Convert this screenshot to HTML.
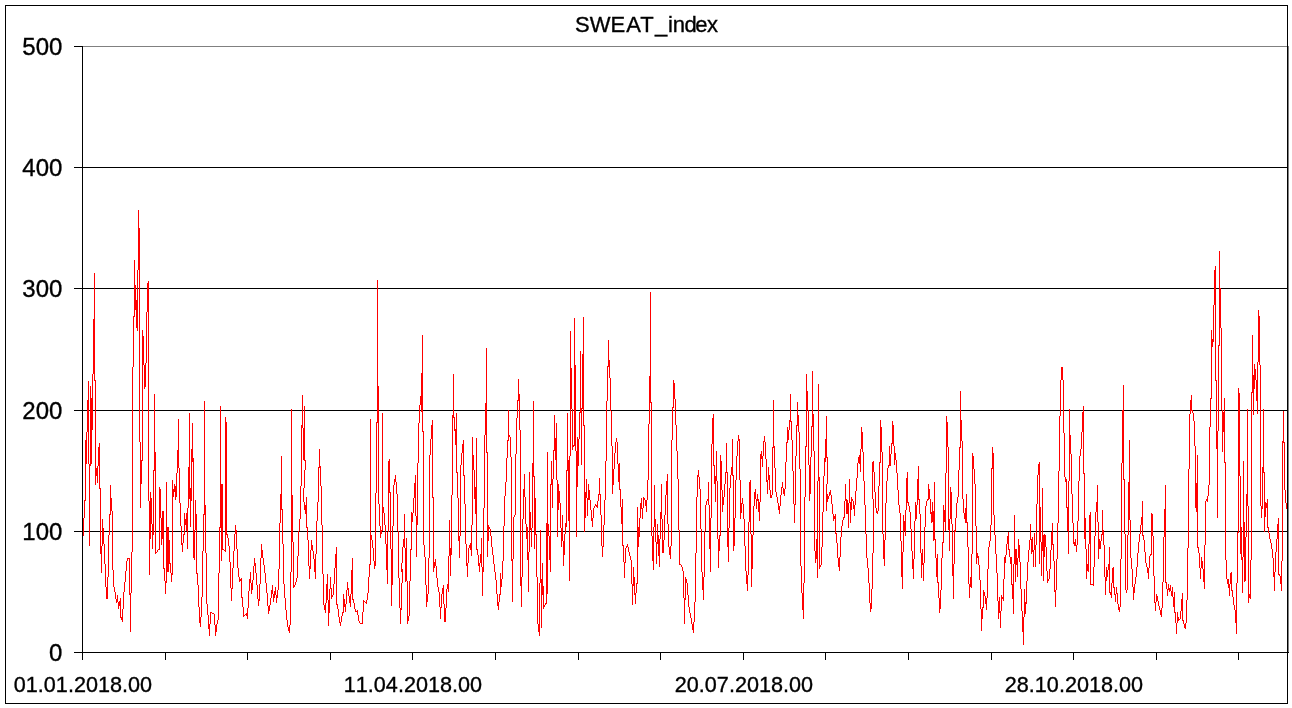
<!DOCTYPE html>
<html><head><meta charset="utf-8"><title>SWEAT_index</title>
<style>
html,body{margin:0;padding:0;background:#fff;}
body{width:1292px;height:708px;overflow:hidden;}
svg{display:block;}
text{font-kerning:none;font-family:"Liberation Sans",sans-serif;fill:#000;stroke:#000;stroke-width:0.35px;}
</style></head><body>
<svg width="1292" height="708" viewBox="0 0 1292 708">
<rect x="0" y="0" width="1292" height="708" fill="#fff"/>
<g stroke="#808080" stroke-width="1" shape-rendering="crispEdges">
<line x1="82" y1="46.5" x2="1289" y2="46.5"/>
<line x1="1288.5" y1="46" x2="1288.5" y2="653"/>
</g>
<rect x="5.5" y="5.5" width="1282" height="698" fill="none" stroke="#000" stroke-width="1" shape-rendering="crispEdges"/>
<g stroke="#000" stroke-width="1" shape-rendering="crispEdges">
<line x1="74" y1="167.5" x2="1288" y2="167.5"/><line x1="74" y1="288.5" x2="1288" y2="288.5"/><line x1="74" y1="410.5" x2="1288" y2="410.5"/><line x1="74" y1="531.5" x2="1288" y2="531.5"/>
<line x1="74" y1="46.5" x2="83" y2="46.5"/>
<line x1="82.5" y1="46" x2="82.5" y2="653"/>
<line x1="74" y1="652.5" x2="1289" y2="652.5"/>
<line x1="82.5" y1="652" x2="82.5" y2="660"/><line x1="165.5" y1="652" x2="165.5" y2="660"/><line x1="247.5" y1="652" x2="247.5" y2="660"/><line x1="330.5" y1="652" x2="330.5" y2="660"/><line x1="412.5" y1="652" x2="412.5" y2="660"/><line x1="495.5" y1="652" x2="495.5" y2="660"/><line x1="578.5" y1="652" x2="578.5" y2="660"/><line x1="660.5" y1="652" x2="660.5" y2="660"/><line x1="743.5" y1="652" x2="743.5" y2="660"/><line x1="825.5" y1="652" x2="825.5" y2="660"/><line x1="908.5" y1="652" x2="908.5" y2="660"/><line x1="991.5" y1="652" x2="991.5" y2="660"/><line x1="1073.5" y1="652" x2="1073.5" y2="660"/><line x1="1156.5" y1="652" x2="1156.5" y2="660"/><line x1="1238.5" y1="652" x2="1238.5" y2="660"/>
</g>
<path fill="none" stroke="#ff0000" stroke-width="1" shape-rendering="crispEdges" d="M83.5 518V536M84.5 500V518M85.5 440V501M86.5 432V464M87.5 400V432M88.5 381V464M89.5 464V546M90.5 386V466M91.5 398V464M92.5 374V430M93.5 319V374M94.5 273V381M95.5 380V485M96.5 468V476M97.5 466V483M98.5 447V466M99.5 443V489M100.5 488V554M101.5 546V573M102.5 519V546M103.5 528V544M104.5 544V564M105.5 564V587M106.5 587V599M107.5 577V599M108.5 535V577M109.5 514V535M110.5 485V515M111.5 498V511M112.5 511V570M113.5 570V587M114.5 587V592M115.5 592V599M116.5 599V603M117.5 595V602M118.5 602V609M119.5 601V606M120.5 598V618M121.5 617V620M122.5 609V622M123.5 592V609M124.5 582V592M125.5 571V582M126.5 561V571M127.5 558V561M128.5 558V559M129.5 558V595M130.5 593V632M131.5 552V593M132.5 367V552M133.5 316V367M134.5 260V317M135.5 285V310M136.5 300V328M137.5 270V331M138.5 210V270M139.5 228V442M140.5 442V508M141.5 460V484M142.5 330V461M143.5 336V365M144.5 365V389M145.5 363V387M146.5 312V363M147.5 283V312M148.5 281V501M149.5 501V575M150.5 492V539M151.5 498V524M152.5 524V549M153.5 470V535M154.5 394V471M155.5 452V554M156.5 552V553M157.5 550V552M158.5 549V550M159.5 487V550M160.5 489V518M161.5 518V545M162.5 511V539M163.5 511V569M164.5 568V581M165.5 581V594M166.5 482V583M167.5 527V572M168.5 527V572M169.5 540V564M170.5 563V573M171.5 573V582M172.5 480V575M173.5 489V497M174.5 484V492M175.5 486V500M176.5 473V497M177.5 450V473M178.5 419V468M179.5 468V503M180.5 503V526M181.5 526V545M182.5 543V552M183.5 534V543M184.5 513V535M185.5 519V525M186.5 513V531M187.5 508V549M188.5 467V508M189.5 413V499M190.5 488V527M191.5 449V501M192.5 423V462M193.5 458V558M194.5 530V560M195.5 500V530M196.5 514V574M197.5 573V585M198.5 585V607M199.5 607V623M200.5 617V627M201.5 597V617M202.5 551V597M203.5 514V551M204.5 401V515M205.5 505V553M206.5 553V604M207.5 604V615M208.5 615V629M209.5 624V636M210.5 612V624M211.5 612V613M212.5 613V614M213.5 613V614M214.5 614V625M215.5 625V636M216.5 624V632M217.5 620V624M218.5 573V620M219.5 527V573M220.5 406V528M221.5 484V561M222.5 484V550M223.5 549V550M224.5 550V551M225.5 417V552M226.5 422V535M227.5 534V538M228.5 538V546M229.5 546V562M230.5 562V588M231.5 588V601M232.5 568V589M233.5 551V568M234.5 534V551M235.5 525V534M236.5 530V549M237.5 549V568M238.5 568V577M239.5 577V582M240.5 579V581M241.5 578V598M242.5 597V607M243.5 607V617M244.5 615V616M245.5 614V615M246.5 613V616M247.5 608V619M248.5 591V608M249.5 579V591M250.5 572V583M251.5 583V594M252.5 580V590M253.5 566V580M254.5 558V566M255.5 563V573M256.5 573V585M257.5 585V599M258.5 599V606M259.5 584V601M260.5 558V584M261.5 544V558M262.5 550V558M263.5 558V565M264.5 565V573M265.5 573V583M266.5 583V593M267.5 593V606M268.5 606V614M269.5 605V611M270.5 598V605M271.5 590V598M272.5 585V594M273.5 594V602M274.5 591V598M275.5 587V595M276.5 595V603M277.5 590V598M278.5 569V590M279.5 523V569M280.5 494V523M281.5 456V510M282.5 509V544M283.5 544V584M284.5 584V598M285.5 598V610M286.5 610V620M287.5 620V627M288.5 627V631M289.5 625V633M290.5 572V625M291.5 409V572M292.5 495V542M293.5 542V588M294.5 585V587M295.5 582V585M296.5 578V582M297.5 556V578M298.5 531V556M299.5 519V531M300.5 486V519M301.5 425V486M302.5 395V428M303.5 428V460M303.5 488V502M304.5 406V461M304.5 470V488M304.5 502V510M305.5 460V470M305.5 505V514M306.5 497V528M307.5 527V540M308.5 540V566M309.5 566V579M310.5 550V569M311.5 540V550M312.5 545V551M313.5 551V559M314.5 559V572M315.5 554V579M316.5 521V554M317.5 502V521M318.5 467V502M319.5 449V468M320.5 466V486M321.5 486V525M322.5 525V574M323.5 574V605M324.5 605V610M325.5 603V613M326.5 584V603M327.5 574V600M328.5 600V626M329.5 589V613M330.5 577V589M331.5 588V599M332.5 595V597M333.5 584V595M334.5 568V584M335.5 554V568M336.5 547V605M337.5 604V609M338.5 609V617M339.5 617V623M340.5 622V626M341.5 616V622M342.5 612V616M343.5 594V613M344.5 599V607M345.5 604V612M346.5 590V604M347.5 582V590M348.5 588V596M349.5 596V603M350.5 594V607M351.5 570V594M352.5 558V600M353.5 599V603M354.5 603V609M355.5 609V612M356.5 611V612M357.5 610V615M358.5 615V621M359.5 621V623M360.5 623V624M361.5 623V624M362.5 612V624M363.5 600V612M364.5 601V602M365.5 602V603M366.5 600V604M367.5 593V600M368.5 577V593M369.5 564V577M370.5 419V565M371.5 535V540M372.5 540V548M373.5 548V561M374.5 561V569M375.5 493V566M376.5 422V493M377.5 280V423M378.5 386V504M379.5 504V526M380.5 526V538M381.5 530V534M382.5 413V531M383.5 507V513M384.5 513V525M385.5 525V544M386.5 544V570M387.5 532V584M388.5 461V532M389.5 459V493M390.5 492V549M391.5 549V606M392.5 526V585M393.5 485V526M394.5 479V485M395.5 475V482M396.5 482V494M397.5 494V531M398.5 531V578M399.5 578V608M400.5 608V624M401.5 563V572M401.5 583V610M402.5 547V563M402.5 569V583M403.5 539V547M404.5 514V548M405.5 548V582M406.5 538V581M407.5 581V624M408.5 616V621M409.5 581V616M410.5 549V581M411.5 512V550M412.5 513V522M413.5 498V513M414.5 483V498M415.5 475V516M416.5 516V557M417.5 463V525M418.5 423V463M419.5 405V423M420.5 396V405M421.5 373V412M422.5 335V432M423.5 431V545M424.5 545V557M425.5 557V585M426.5 585V607M427.5 594V602M428.5 558V594M429.5 455V558M430.5 439V455M431.5 425V439M432.5 420V498M433.5 497V572M434.5 562V568M435.5 559V566M436.5 566V578M437.5 578V587M438.5 587V592M439.5 592V607M440.5 607V619M441.5 594V608M442.5 588V594M443.5 585V604M444.5 604V622M445.5 608V622M446.5 589V608M447.5 584V589M448.5 556V592M449.5 520V556M450.5 548V576M451.5 495V555M452.5 415V495M453.5 374V418M454.5 417V431M455.5 429V445M456.5 413V473M457.5 472V498M458.5 498V541M459.5 536V558M460.5 465V536M461.5 453V465M462.5 444V453M463.5 440V476M464.5 475V504M465.5 504V544M466.5 544V566M467.5 563V577M468.5 548V563M469.5 545V548M470.5 543V550M471.5 525V556M472.5 437V525M473.5 455V470M474.5 470V499M475.5 487V514M476.5 438V550M477.5 549V555M478.5 555V566M479.5 563V572M480.5 554V563M481.5 538V567M482.5 567V596M483.5 508V572M484.5 435V508M485.5 403V435M486.5 348V453M487.5 452V557M488.5 525V541M489.5 527V529M490.5 529V536M491.5 536V547M492.5 547V555M493.5 555V564M494.5 564V572M495.5 572V580M496.5 580V594M497.5 594V606M498.5 602V610M499.5 594V602M500.5 573V595M501.5 579V587M502.5 561V579M503.5 526V561M504.5 496V526M505.5 482V496M506.5 458V482M507.5 440V458M508.5 410V441M509.5 435V437M510.5 437V457M511.5 457V561M512.5 559V602M513.5 517V559M514.5 515V517M515.5 454V515M516.5 418V454M517.5 400V418M518.5 379V401M519.5 394V430M520.5 430V586M521.5 577V607M522.5 519V577M523.5 489V519M524.5 474V497M525.5 497V524M526.5 524V539M527.5 527V560M528.5 552V592M529.5 472V552M530.5 512V530M531.5 528V547M532.5 463V528M533.5 401V477M534.5 476V549M535.5 498V535M536.5 534V577M537.5 577V624M538.5 624V632M539.5 583V636M540.5 530V583M541.5 579V628M542.5 563V595M543.5 586V609M544.5 605V607M545.5 603V605M546.5 523V604M547.5 452V594M548.5 524V536M549.5 536V560M550.5 484V572M551.5 461V485M552.5 479V508M553.5 450V479M554.5 415V451M555.5 438V460M556.5 423V480M557.5 480V537M558.5 484V510M559.5 491V503M560.5 503V528M561.5 528V547M562.5 515V541M563.5 541V566M564.5 534V555M565.5 523V534M566.5 470V527M567.5 413V471M568.5 460V521M569.5 456V581M570.5 331V456M571.5 368V409M572.5 409V450M573.5 445V447M574.5 318V446M575.5 365V451M576.5 451V537M577.5 437V487M578.5 439V466M579.5 412V439M580.5 351V413M581.5 408V465M582.5 354V409M583.5 317V426M584.5 425V532M585.5 492V518M586.5 479V498M587.5 498V516M588.5 484V500M589.5 490V500M590.5 500V510M591.5 510V521M592.5 518V527M593.5 508V518M594.5 506V508M595.5 504V506M596.5 505V507M597.5 501V508M598.5 494V501M599.5 478V495M600.5 494V515M601.5 515V546M602.5 546V557M603.5 525V547M604.5 500V525M605.5 461V500M606.5 401V461M607.5 366V401M608.5 340V367M609.5 360V378M610.5 378V411M611.5 411V446M612.5 446V494M613.5 469V485M614.5 453V469M615.5 442V453M616.5 438V442M617.5 442V464M618.5 464V482M619.5 463V490M620.5 489V507M621.5 507V524M622.5 499V546M623.5 545V562M624.5 562V578M625.5 548V563M626.5 546V548M627.5 544V547M628.5 547V552M629.5 552V556M630.5 556V560M631.5 560V584M632.5 584V605M633.5 567V586M634.5 577V595M635.5 593V604M636.5 583V593M637.5 507V584M638.5 527V547M639.5 518V537M640.5 503V518M641.5 498V509M642.5 508V519M643.5 497V508M644.5 498V500M645.5 500V506M646.5 500V512M647.5 480V500M648.5 424V480M649.5 376V424M650.5 292V403M651.5 402V536M652.5 536V561M653.5 527V570M654.5 485V527M655.5 519V542M656.5 542V564M657.5 524V544M658.5 535V556M659.5 539V567M660.5 512V539M661.5 484V519M662.5 519V553M663.5 540V553M664.5 515V540M665.5 495V515M666.5 481V495M667.5 474V524M668.5 524V547M669.5 547V555M670.5 546V559M671.5 440V546M672.5 407V440M673.5 380V408M674.5 383V399M675.5 399V425M676.5 425V451M677.5 451V479M678.5 479V530M679.5 530V565M680.5 564V565M681.5 565V567M682.5 567V571M683.5 571V598M684.5 598V624M685.5 577V600M686.5 579V583M687.5 583V595M688.5 595V607M689.5 607V613M690.5 613V618M691.5 618V624M692.5 624V630M693.5 622V633M694.5 602V622M695.5 553V602M696.5 497V553M697.5 475V497M698.5 470V477M699.5 477V489M700.5 489V529M701.5 529V572M702.5 572V590M703.5 577V600M704.5 531V577M705.5 505V531M706.5 501V505M707.5 499V501M708.5 482V505M709.5 505V549M710.5 518V572M711.5 444V518M712.5 418V444M713.5 414V466M714.5 465V484M715.5 476V502M716.5 451V481M717.5 481V539M718.5 539V568M719.5 535V551M720.5 455V536M721.5 461V490M722.5 490V512M723.5 497V505M724.5 484V497M725.5 472V484M726.5 443V473M727.5 472V547M728.5 528V562M729.5 488V528M730.5 475V488M731.5 467V475M732.5 439V476M733.5 475V551M734.5 518V546M735.5 480V518M736.5 456V480M737.5 441V456M738.5 435V441M739.5 439V480M740.5 480V519M741.5 503V513M742.5 498V504M743.5 504V519M744.5 519V546M745.5 546V571M746.5 571V584M747.5 575V591M748.5 522V575M749.5 482V522M750.5 480V534M751.5 534V587M752.5 535V569M753.5 506V535M754.5 492V506M755.5 489V499M756.5 499V509M757.5 494V501M758.5 499V512M759.5 502V521M760.5 454V502M761.5 451V459M762.5 456V467M763.5 441V456M764.5 436V442M765.5 442V459M766.5 459V482M767.5 480V494M768.5 467V480M769.5 475V490M770.5 490V498M771.5 495V498M772.5 447V495M773.5 400V448M774.5 446V468M775.5 468V492M776.5 492V497M777.5 497V503M778.5 503V510M779.5 506V514M780.5 495V506M781.5 487V495M782.5 482V488M783.5 488V494M784.5 489V496M785.5 462V489M786.5 442V462M787.5 427V443M788.5 430V440M789.5 420V430M790.5 394V422M791.5 421V440M792.5 440V471M793.5 471V504M794.5 504V523M795.5 456V505M796.5 425V456M797.5 402V426M798.5 415V432M799.5 432V469M800.5 469V566M801.5 566V593M802.5 593V610M803.5 583V619M804.5 497V583M805.5 446V497M806.5 374V447M807.5 391V410M808.5 410V465M809.5 465V501M810.5 457V494M811.5 426V457M812.5 371V427M813.5 414V451M814.5 451V551M815.5 551V563M816.5 539V559M817.5 481V578M818.5 384V481M819.5 477V569M820.5 565V567M821.5 547V565M822.5 512V547M823.5 476V512M824.5 458V476M825.5 439V462M826.5 416V458M826.5 484V511M827.5 457V484M827.5 494V502M828.5 496V499M829.5 492V496M830.5 490V495M831.5 495V504M832.5 504V514M833.5 514V521M834.5 516V519M835.5 514V534M836.5 533V543M837.5 543V558M838.5 558V567M839.5 557V571M840.5 537V557M841.5 526V537M842.5 520V526M843.5 517V520M844.5 501V518M845.5 484V501M846.5 499V514M847.5 500V514M848.5 503V528M849.5 479V503M850.5 502V523M851.5 497V510M852.5 499V501M853.5 501V509M854.5 505V516M855.5 491V505M856.5 478V491M857.5 463V478M858.5 457V463M859.5 455V464M860.5 449V472M861.5 427V449M862.5 432V452M863.5 452V481M864.5 481V505M865.5 505V534M866.5 534V558M867.5 558V568M868.5 568V583M869.5 583V603M870.5 603V612M871.5 589V609M872.5 462V499M872.5 553V589M873.5 461V472M873.5 499V553M874.5 472V492M875.5 492V508M876.5 508V513M877.5 511V514M878.5 486V511M879.5 462V486M880.5 420V463M881.5 427V452M882.5 452V534M883.5 534V559M884.5 540V566M885.5 503V540M886.5 481V503M887.5 468V481M888.5 465V468M889.5 446V466M890.5 454V466M891.5 443V454M892.5 421V444M893.5 425V446M894.5 446V465M895.5 453V460M896.5 460V473M897.5 473V490M898.5 490V505M899.5 505V513M900.5 513V541M901.5 541V577M902.5 552V589M903.5 515V552M904.5 521V531M905.5 510V536M906.5 478V510M907.5 472V503M908.5 502V506M909.5 506V512M910.5 512V529M911.5 529V551M912.5 551V569M913.5 559V579M914.5 521V559M915.5 502V521M916.5 505V519M917.5 479V505M918.5 466V500M919.5 499V514M920.5 514V553M921.5 553V578M922.5 549V565M923.5 563V581M924.5 527V563M925.5 506V527M926.5 501V506M927.5 499V501M928.5 484V500M929.5 489V499M930.5 499V514M931.5 512V523M932.5 502V522M933.5 511V541M934.5 482V540M935.5 539V558M936.5 558V577M937.5 554V583M938.5 582V598M939.5 598V613M940.5 590V609M941.5 558V590M942.5 542V558M943.5 505V543M944.5 510V522M945.5 473V531M946.5 416V473M947.5 422V447M948.5 447V530M949.5 519V551M950.5 487V519M951.5 492V524M952.5 524V576M953.5 564V599M954.5 530V564M955.5 518V532M956.5 503V518M957.5 497V503M958.5 470V497M959.5 447V470M960.5 391V448M961.5 420V441M962.5 441V499M963.5 499V513M964.5 513V519M965.5 508V523M966.5 494V523M967.5 522V547M968.5 547V584M969.5 584V598M970.5 577V587M971.5 554V588M972.5 453V554M973.5 456V469M974.5 469V484M975.5 484V526M976.5 526V564M977.5 553V558M978.5 556V565M979.5 565V580M980.5 580V609M981.5 609V631M982.5 607V619M983.5 590V608M984.5 592V596M985.5 596V604M986.5 598V610M987.5 569V598M988.5 547V569M989.5 541V547M990.5 525V541M991.5 468V525M992.5 447V469M993.5 453V515M994.5 515V535M995.5 535V554M996.5 554V573M997.5 573V601M998.5 601V619M999.5 597V613M1000.5 611V628M1001.5 595V611M1002.5 597V599M1003.5 579V601M1004.5 557V579M1005.5 555V563M1006.5 544V555M1007.5 536V544M1008.5 532V550M1009.5 549V557M1010.5 557V564M1011.5 557V585M1012.5 584V599M1013.5 564V614M1014.5 515V564M1015.5 549V582M1016.5 549V565M1017.5 558V577M1018.5 539V558M1019.5 545V562M1020.5 562V589M1021.5 589V611M1022.5 611V632M1023.5 617V645M1024.5 589V617M1025.5 602V614M1026.5 581V604M1027.5 562V581M1028.5 550V562M1029.5 540V550M1030.5 524V540M1031.5 539V554M1032.5 537V552M1033.5 550V567M1034.5 533V550M1035.5 545V567M1036.5 504V545M1037.5 475V504M1038.5 464V475M1039.5 462V564M1040.5 507V542M1041.5 542V576M1042.5 488V551M1043.5 535V581M1044.5 534V557M1045.5 535V547M1046.5 547V571M1047.5 571V583M1048.5 579V581M1049.5 569V579M1050.5 550V569M1051.5 532V550M1052.5 523V545M1053.5 544V561M1054.5 561V592M1055.5 590V607M1056.5 559V590M1057.5 523V559M1058.5 471V523M1059.5 416V471M1060.5 380V416M1061.5 367V380M1062.5 367V380M1063.5 380V433M1064.5 433V477M1065.5 477V482M1066.5 479V508M1067.5 507V531M1068.5 481V554M1069.5 409V481M1070.5 435V454M1071.5 454V494M1072.5 494V523M1073.5 523V544M1074.5 542V546M1075.5 539V546M1076.5 545V552M1077.5 521V545M1078.5 481V521M1079.5 456V481M1080.5 449V456M1081.5 432V449M1082.5 412V432M1083.5 406V474M1084.5 473V539M1085.5 518V549M1086.5 549V579M1087.5 564V571M1088.5 544V572M1089.5 515V544M1090.5 512V585M1091.5 584V585M1092.5 584V585M1093.5 567V586M1094.5 536V567M1095.5 512V536M1096.5 502V512M1097.5 485V522M1098.5 522V559M1099.5 539V549M1100.5 541V549M1101.5 534V541M1102.5 510V535M1103.5 530V545M1104.5 545V577M1105.5 577V595M1106.5 567V581M1107.5 570V577M1108.5 564V570M1109.5 547V593M1110.5 592V595M1111.5 583V598M1112.5 568V583M1113.5 567V588M1114.5 587V595M1115.5 594V602M1116.5 587V594M1117.5 593V604M1118.5 604V610M1119.5 607V612M1120.5 559V607M1121.5 463V559M1122.5 410V463M1123.5 385V480M1124.5 479V534M1125.5 534V590M1126.5 590V593M1127.5 535V590M1128.5 482V535M1129.5 440V520M1130.5 520V558M1131.5 558V569M1132.5 569V587M1133.5 587V600M1134.5 584V593M1135.5 577V584M1136.5 567V577M1137.5 553V567M1138.5 542V553M1139.5 534V542M1140.5 525V534M1141.5 517V525M1142.5 501V536M1143.5 535V540M1144.5 540V552M1145.5 552V563M1146.5 563V567M1147.5 567V573M1148.5 568V579M1149.5 556V568M1150.5 554V556M1151.5 513V555M1152.5 514V536M1153.5 536V576M1154.5 576V603M1155.5 602V611M1156.5 594V602M1157.5 596V601M1158.5 601V606M1159.5 606V610M1160.5 610V615M1161.5 608V617M1162.5 582V608M1163.5 537V582M1164.5 509V537M1165.5 485V583M1166.5 582V589M1167.5 589V596M1168.5 584V590M1169.5 588V592M1170.5 585V591M1171.5 591V596M1172.5 587V597M1173.5 597V607M1174.5 592V613M1175.5 612V623M1176.5 623V634M1177.5 612V623M1178.5 617V621M1179.5 619V620M1180.5 611V619M1181.5 599V611M1182.5 593V621M1183.5 620V624M1184.5 624V628M1185.5 623V629M1186.5 600V623M1187.5 548V600M1188.5 469V548M1189.5 414V469M1190.5 400V414M1191.5 395V411M1192.5 410V413M1193.5 413V421M1194.5 421V446M1195.5 446V508M1196.5 483V512M1197.5 455V548M1198.5 547V553M1199.5 553V568M1200.5 568V579M1201.5 557V568M1202.5 561V569M1203.5 569V582M1204.5 545V589M1205.5 501V545M1206.5 499V501M1207.5 496V502M1208.5 485V496M1209.5 427V485M1210.5 398V427M1211.5 330V399M1212.5 339V347M1213.5 305V342M1214.5 270V305M1215.5 266V381M1216.5 380V449M1217.5 431V518M1218.5 345V431M1219.5 251V346M1220.5 288V328M1221.5 328V410M1222.5 410V452M1223.5 412V432M1224.5 398V463M1225.5 462V560M1226.5 560V579M1227.5 579V584M1228.5 579V588M1229.5 584V596M1230.5 573V584M1231.5 572V591M1232.5 590V597M1233.5 597V605M1234.5 605V610M1235.5 610V623M1236.5 583V634M1237.5 532V583M1238.5 388V533M1239.5 393V476M1240.5 476V554M1241.5 527V560M1242.5 557V593M1243.5 461V557M1244.5 522V582M1245.5 537V581M1246.5 494V537M1247.5 409V506M1248.5 506V603M1249.5 594V598M1250.5 560V599M1251.5 392V560M1252.5 335V393M1253.5 375V415M1254.5 364V389M1255.5 369V380M1256.5 380V401M1257.5 362V414M1258.5 310V362M1259.5 316V365M1260.5 365V506M1261.5 506V518M1262.5 467V509M1263.5 409V473M1264.5 472V532M1265.5 502V517M1266.5 503V508M1267.5 499V528M1268.5 527V533M1269.5 533V539M1270.5 539V543M1271.5 543V549M1272.5 549V558M1273.5 558V577M1274.5 572V591M1275.5 552V572M1276.5 539V552M1277.5 524V539M1278.5 518V575M1279.5 574V576M1280.5 576V584M1281.5 561V591M1282.5 441V561M1283.5 411V443M1284.5 442V490M1285.5 490V503M1286.5 503V509"/>
<text x="574.98 589.65 610.42 626.33 640.36 655.06 667.93 672.81 684.40 695.37 707.00" y="32" style="font-size:22px">SWEAT_index</text>
<text x="62.4" y="55.1" text-anchor="end" style="font-size:24px">500</text><text x="62.4" y="176.1" text-anchor="end" style="font-size:24px">400</text><text x="62.4" y="297.1" text-anchor="end" style="font-size:24px">300</text><text x="62.4" y="419.1" text-anchor="end" style="font-size:24px">200</text><text x="62.4" y="540.1" text-anchor="end" style="font-size:24px">100</text><text x="62.4" y="661.1" text-anchor="end" style="font-size:24px">0</text>
<text x="82.9" y="692" text-anchor="middle" style="font-size:21.6px">01.01.2018.00</text><text x="412.9" y="692" text-anchor="middle" style="font-size:21.6px">11.04.2018.00</text><text x="743.9" y="692" text-anchor="middle" style="font-size:21.6px">20.07.2018.00</text><text x="1073.9" y="692" text-anchor="middle" style="font-size:21.6px">28.10.2018.00</text>
</svg>
</body></html>
